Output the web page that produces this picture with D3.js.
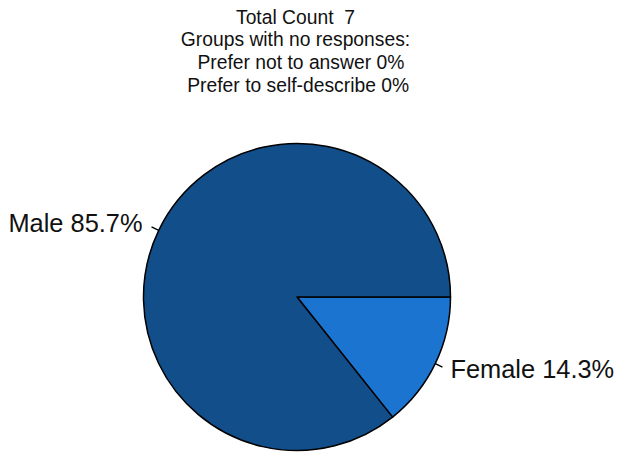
<!DOCTYPE html>
<html><head><meta charset="utf-8">
<script src="https://cdn.jsdelivr.net/npm/d3@7"></script>
<style>
html,body{margin:0;padding:0;background:#fff;}
text{font-family:"Liberation Sans",Arial,sans-serif;white-space:pre;}
</style></head>
<body>
<svg id="chart" width="619" height="452"></svg>
<script>
const categories = ["Female", "Male"];
const percents = [14.3, 85.7];
const counts = [1, 6];
const colors = ["#1b74cf", "#124e89"];
const titleLines = ["Total Count  7", "Groups with no responses:", "  Prefer not to answer 0%", " Prefer to self-describe 0%"];

const svg = d3.select("#chart");
const cx = 297, cy = 297, r = 153.5;

svg.append("g").selectAll("text").data(titleLines).join("text")
  .attr("x", 295.5).attr("y", (d, i) => 23.5 + i * 22.7)
  .attr("text-anchor", "middle").attr("font-size", 19.3).attr("fill", "#111")
  .text(d => d);

const data = categories.map((c, i) => ({cat: c, pct: percents[i], count: counts[i], color: colors[i]}));
const pie = d3.pie().sort(null).value(d => d.pct).startAngle(Math.PI / 2).endAngle(Math.PI / 2 + 2 * Math.PI);
const arcs = pie(data);
const arc = d3.arc().innerRadius(0).outerRadius(r);
const g = svg.append("g").attr("transform", `translate(${cx},${cy})`);

g.selectAll("path").data(arcs).join("path")
  .attr("d", arc).attr("fill", d => d.data.color)
  .attr("stroke", "#000").attr("stroke-width", 1.5).attr("stroke-linejoin", "round");

const pt = (a, rr) => [Math.sin(a) * rr, -Math.cos(a) * rr];
arcs.forEach(d => {
  const a = (d.startAngle + d.endAngle) / 2;
  const p0 = pt(a, r), p1 = pt(a, r + 8);
  g.append("line").attr("x1", p0[0]).attr("y1", p0[1]).attr("x2", p1[0]).attr("y2", p1[1])
    .attr("stroke", "#000").attr("stroke-width", 1.3);
  const right = p1[0] > 0;
  g.append("text")
    .attr("x", p1[0] + (right ? 8 : -9)).attr("y", p1[1] + (right ? 10.5 : 5.5))
    .attr("text-anchor", right ? "start" : "end")
    .attr("font-size", 25.4).attr("fill", "#111")
    .text(`${d.data.cat} ${d.data.pct}%`);
});
</script>
</body></html>
